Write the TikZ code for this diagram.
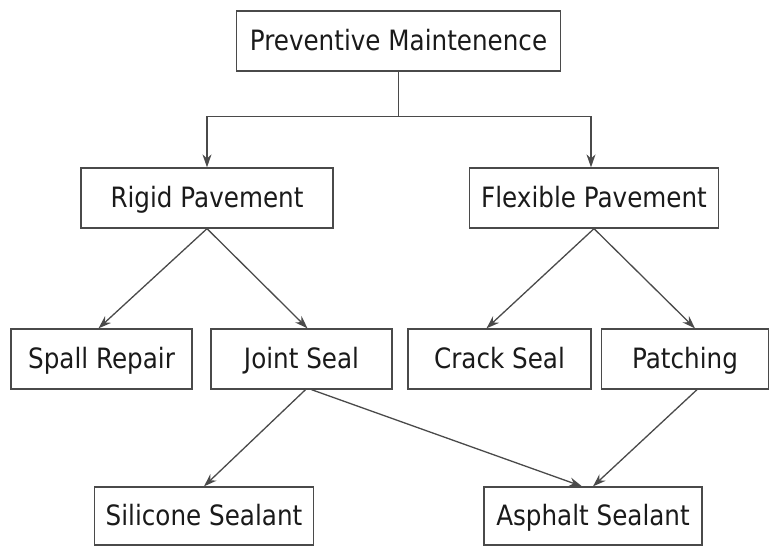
\documentclass[tikz,border=0pt]{standalone}
\usepackage{fontspec}
\setmainfont{DejaVu Sans}[FakeStretch=0.88]
\usetikzlibrary{arrows.meta}
\definecolor{linegray}{HTML}{4A4A4A}
\definecolor{textgray}{HTML}{1A1A1A}
\begin{document}
\begin{tikzpicture}[x=1pt,y=-1pt,
  box/.style={draw=linegray, line width=1.3pt, rectangle, minimum height=60pt, inner sep=0pt,
    text height=21.5pt, text depth=3.5pt,
    text=textgray, font=\fontsize{28}{32}\selectfont},
  conn/.style={draw=linegray, line width=1.3pt, -{Stealth[length=13pt,width=9pt]}}]
\useasboundingbox (0,0) rectangle (770,546);
\node[box, minimum width=324pt] (pm) at (398.5,41) {Preventive Maintenence};
\node[box, minimum width=252pt] (rp) at (207,198) {Rigid Pavement};
\node[box, minimum width=249pt] (fp) at (594,198) {Flexible Pavement};
\node[box, minimum width=181pt] (sr) at (101.5,359) {Spall Repair};
\node[box, minimum width=181pt] (js) at (301.5,359) {Joint Seal};
\node[box, minimum width=183pt] (cs) at (499.5,359) {Crack Seal};
\node[box, minimum width=167pt] (pa) at (685,359) {Patching};
\node[box, minimum width=219pt, minimum height=58pt] (ss) at (204,516) {Silicone Sealant};
\node[box, minimum width=218pt, minimum height=58pt] (as) at (593,516) {Asphalt Sealant};
\coordinate (split) at ([yshift=-45pt]pm.south);
\draw[conn] (pm.south) -- (split) -| (rp.north);
\draw[conn] (split) -| ([xshift=-3pt]fp.north);
\draw[conn] (rp.south) -- ([xshift=-3pt]sr.north);
\draw[conn] (rp.south) -- ([xshift=6pt]js.north);
\draw[conn] (fp.south) -- ([xshift=-13pt]cs.north);
\draw[conn] (fp.south) -- ([xshift=10pt]pa.north);
\draw[conn] ([xshift=4pt]js.south) -- (ss.north);
\draw[conn] ([xshift=10pt]js.south) -- ([xshift=-11pt]as.north);
\draw[conn] ([xshift=12pt]pa.south) -- (as.north);
\end{tikzpicture}
\end{document}
